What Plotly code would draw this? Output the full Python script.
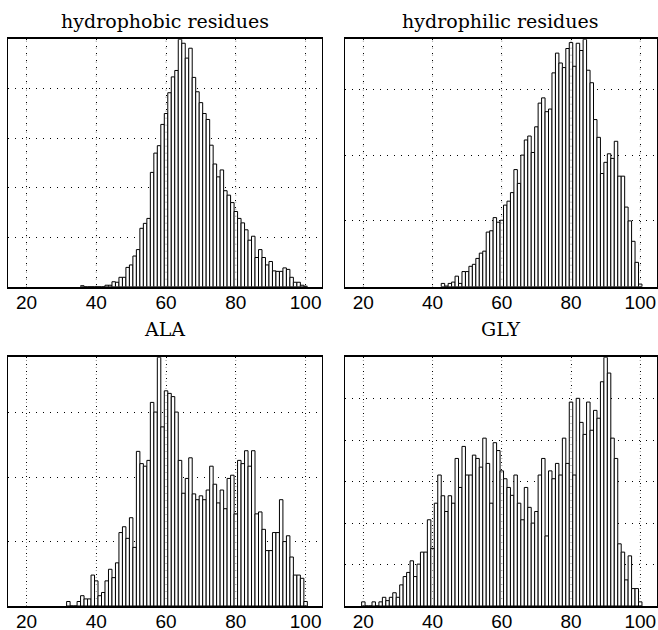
import plotly.graph_objects as go

W, H = 658, 630

# ---------------- data (histogram counts, in grid units) ----------------
bins_hydrophobic = list(range(36, 101))
hydrophobic = [0.02, 0, 0, 0, 0, 0, 0, 0.03, 0.03, 0.10, 0.09, 0.19, 0.19, 0.39, 0.44,
               0.62, 0.75, 1.18, 1.28, 1.38, 2.31, 2.70, 2.85, 3.28, 3.50, 3.92, 4.24,
               4.37, 5.00, 4.92, 4.62, 4.82, 4.23, 3.94, 3.72, 3.50, 3.38, 2.86, 2.48,
               2.22, 2.36, 1.94, 1.85, 1.70, 1.52, 1.38, 1.29, 1.15, 0.94, 1.02, 0.59,
               0.75, 0.59, 0.44, 0.51, 0.32, 0.31, 0.31, 0.38, 0.35, 0.19, 0.09, 0.09,
               0.03, 0.01]

bins_hydrophilic = list(range(43, 101))
hydrophilic = [0.05, 0.01, 0.05, 0.07, 0.16, 0.05, 0.23, 0.23, 0.31, 0.34, 0.43, 0.51,
               0.54, 0.83, 0.85, 1.05, 0.98, 1.01, 1.24, 1.30, 1.43, 1.78, 1.57, 2.00,
               2.23, 2.29, 2.04, 2.43, 2.79, 2.87, 2.66, 2.70, 3.25, 3.55, 3.40, 3.33,
               3.62, 3.71, 3.35, 3.70, 3.59, 3.76, 3.29, 3.10, 2.54, 2.27, 1.72, 1.89,
               2.02, 1.95, 2.21, 1.68, 1.68, 1.21, 1.00, 0.69, 0.37, 0.04]

bins_ala = list(range(32, 101))
ala = [0.07, 0, 0, 0.07, 0.16, 0.11, 0.11, 0.48, 0.39, 0.16, 0.21, 0.39, 0.57, 0.44,
       0.67, 1.14, 1.23, 1.05, 1.37, 0.91, 2.40, 2.21, 2.17, 2.26, 3.16, 3.01, 3.86,
       2.78, 3.34, 3.30, 3.25, 3.01, 2.26, 1.75, 1.98, 2.30, 1.74, 1.65, 1.71, 1.65,
       1.80, 2.17, 1.89, 1.60, 1.80, 1.51, 1.98, 2.03, 1.43, 2.26, 2.21, 2.41, 2.17,
       2.41, 1.43, 1.46, 1.19, 0.86, 0.86, 1.14, 1.14, 1.65, 1.00, 1.09, 0.76, 0.48,
       0.48, 0.43, 0.07]

bins_gly = list(range(20, 101))
gly = [0.10, 0, 0, 0.10, 0, 0.10, 0.21, 0.13, 0.21, 0.32, 0.21, 0.51, 0.71, 0.81, 1.09,
       0.71, 1.01, 1.30, 1.30, 2.08, 1.39, 2.48, 3.16, 2.66, 2.28, 2.66, 2.48, 3.56,
       2.86, 3.85, 3.16, 3.16, 3.64, 3.56, 3.35, 4.05, 3.44, 2.48, 3.94, 3.75, 3.26,
       3.07, 2.86, 2.67, 3.16, 2.48, 2.08, 2.86, 2.38, 2.00, 2.28, 3.16, 3.56, 1.69,
       3.26, 3.07, 3.44, 3.16, 4.05, 3.44, 4.92, 3.16, 5.01, 4.43, 4.14, 4.92, 4.24,
       4.72, 4.53, 5.41, 6.00, 5.62, 4.05, 3.56, 1.50, 1.30, 0.63, 1.21, 0.42, 0.42,
       0.10]

titles = ["hydrophobic residues", "hydrophilic residues", "ALA", "GLY"]
x_ticks = [20, 40, 60, 80, 100]

# ---------------- layout geometry (pixels) ----------------
panels = [
    dict(x=bins_hydrophobic, y=hydrophobic, px=(8, 322), py=(39.3, 286.7)),
    dict(x=bins_hydrophilic, y=hydrophilic, px=(345, 656.5), py=(39.3, 286.7)),
    dict(x=bins_ala, y=ala, px=(8, 322), py=(357.3, 606)),
    dict(x=bins_gly, y=gly, px=(345, 656.5), py=(357.3, 606)),
]
title_center_y = [21, 21, 329, 329]

fig = go.Figure()
layout = dict(
    width=W, height=H,
    margin=dict(l=0, r=0, t=0, b=0),
    paper_bgcolor="white", plot_bgcolor="white",
    showlegend=False, bargap=0,
    annotations=[], shapes=[],
)

grid_dash = "1px,6px"
for i, p in enumerate(panels):
    n = "" if i == 0 else str(i + 1)
    fig.add_trace(go.Bar(
        x=p["x"], y=p["y"], width=1,
        marker=dict(color="white", line=dict(color="black", width=1)),
        xaxis="x" + n, yaxis="y" + n, hoverinfo="skip",
    ))
    xd = [p["px"][0] / W, p["px"][1] / W]
    yd = [1 - p["py"][1] / H, 1 - p["py"][0] / H]
    layout["xaxis" + n] = dict(
        domain=xd, range=[14.7, 104.7], anchor="y" + n,
        tickvals=x_ticks, ticks="", ticklen=0, ticklabelstandoff=-3,
        showgrid=True, gridcolor="black",
        gridwidth=1, griddash=grid_dash, zeroline=False,
        showline=True, linecolor="black", linewidth=2, mirror=True,
        tickfont=dict(family="Liberation Sans, Arial, sans-serif", size=19, color="black"),
        automargin=False, fixedrange=True,
    )
    layout["yaxis" + n] = dict(
        domain=yd, range=[0, max(p["y"])], anchor="x" + n, dtick=1,
        showticklabels=False, ticks="", showgrid=True, gridcolor="black",
        gridwidth=1, griddash=grid_dash, zeroline=False,
        showline=True, linecolor="black", linewidth=1, mirror=True,
        automargin=False, fixedrange=True,
    )
    # faint vertical grid visible through the bars (as in the original)
    for t in x_ticks:
        layout["shapes"].append(dict(
            type="line", layer="above", xref="x" + n, yref=("y" + n) + " domain",
            x0=t, x1=t, y0=0, y1=1,
            line=dict(color="rgba(0,0,0,0.45)", width=1, dash=grid_dash),
        ))
    layout["annotations"].append(dict(
        text=titles[i], showarrow=False,
        xref="paper", yref="paper",
        x=(xd[0] + xd[1]) / 2, y=1 - title_center_y[i] / H,
        xanchor="center", yanchor="middle",
        font=dict(family="DejaVu Serif, serif", size=19, color="black"),
    ))

fig.update_layout(**layout)
fig.write_html(
    "out.html",
    config={"displayModeBar": False, "staticPlot": True},
    post_script="document.body.style.margin='0';document.body.style.overflow='hidden';",
)
